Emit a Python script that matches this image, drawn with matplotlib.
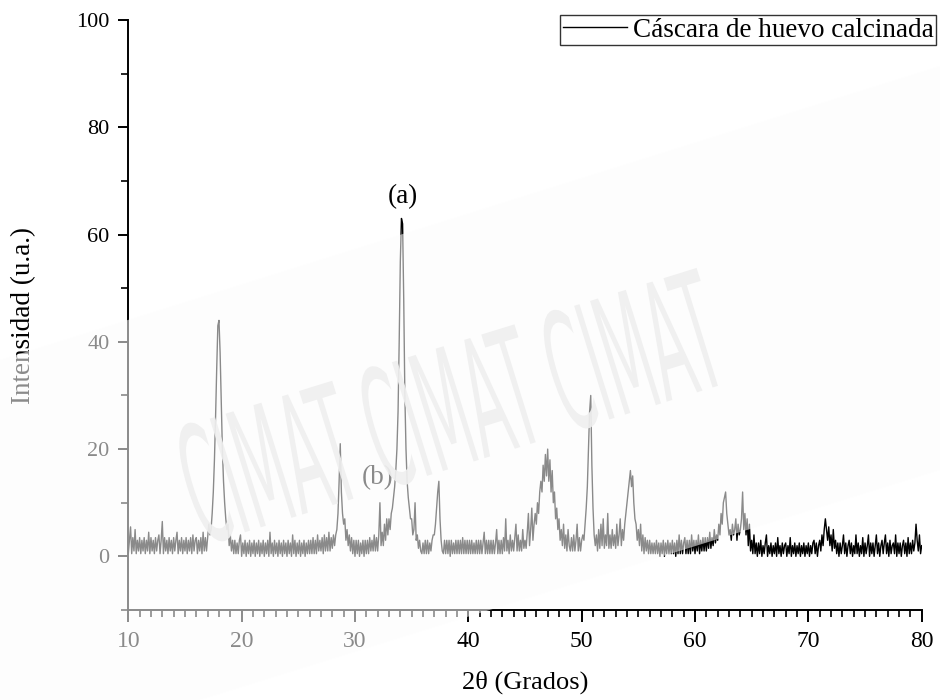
import numpy as np
import matplotlib
matplotlib.use('Agg')
import matplotlib.pyplot as plt
from matplotlib import patheffects
from matplotlib.patches import Polygon
from matplotlib.ticker import MultipleLocator
from matplotlib.transforms import Affine2D

# =Data : intensity, 0.1 deg steps starting at 10 deg
two_theta_start = 10.0
two_theta_step = 0.1

int_10_20 = [0.5, 3, 5.5, 0.5, 3.5, 1, 5, 0.5, 3, 1,
             3.5, 0.5, 3, 1, 3.5, 0.5, 3, 1, 4.5, 0.5,
             3.5, 1, 3, 0.5, 3.5, 1, 3, 4, 0.5, 3,
             6.5, 0.5, 3.5, 1, 3, 0.5, 3.5, 1, 3, 0.5,
             3.5, 1, 3, 4.5, 0.5, 3, 1, 3.5, 0.5, 3,
             1, 3.5, 0.5, 3, 1, 3.5, 0.5, 4, 1, 3,
             3.5, 0.5, 3, 1, 3.5, 0.5, 4.5, 1, 3.5, 1,
             3.5, 6, 4, 5, 8, 12, 18, 26, 35, 43,
             44, 38, 29, 20, 14, 10, 7, 5, 6, 2,
             4, 1, 3, 0.5, 3, 0.5, 2.5, 0.5, 3, 4]
int_20_30 = [0, 2.5, 0.5, 3, 0, 2.5, 0.5, 3, 0, 2.5,
             0.5, 3, 0, 2.5, 0.5, 3, 0, 2.5, 0.5, 3,
             0, 2.5, 0.5, 3, 0, 4.5, 0.5, 2.5, 0, 3,
             0.5, 2.5, 0, 3, 0.5, 2.5, 0, 3, 0.5, 2.5,
             0, 3, 0.5, 2.5, 0, 4, 0.5, 3, 0, 2.5,
             0.5, 3, 0, 2.5, 0.5, 3, 0, 2.5, 0.5, 3,
             0.5, 3, 0.5, 3.5, 0.5, 3, 0.5, 4, 1, 3,
             1, 3.5, 0.5, 4, 1, 3.5, 1, 4.5, 1, 3.5,
             1.5, 4, 2, 4, 5, 8, 14, 21, 12, 8,
             6, 7, 3, 5, 2, 4, 1, 3.5, 0.5, 3]
int_30_40 = [0, 3, 0.5, 3, 0, 2.5, 0.5, 3, 0, 3,
             0.5, 3, 0.5, 3.5, 1, 3, 1, 4, 1, 3.5,
             1, 4, 10, 2, 4.5, 2, 6, 3, 7, 4,
             7, 5, 8, 9, 11, 13, 16, 20, 27, 40,
             55, 63, 62, 48, 30, 20, 14, 11, 9, 7,
             7, 4, 5, 10, 3, 4, 1.5, 3, 1, 0.5,
             2.5, 0.5, 3, 0.5, 3, 0.5, 2.5, 1, 3, 4,
             4, 6, 9, 12, 14, 7, 3, 1, 0.5, 3,
             0.5, 3, 0.5, 3, 0, 3, 0.5, 2.5, 0.5, 3,
             0.5, 3, 0.5, 3, 0.5, 3.5, 0.5, 3, 0.5, 3]
int_40_50 = [0.5, 3, 0.5, 3, 0.5, 2.5, 0.5, 3, 0.5, 3,
             0.5, 3, 0.5, 2.5, 4.5, 0.5, 3, 0.5, 3, 0.5,
             3, 0.5, 3, 0.5, 2.5, 5, 0.5, 3, 0.5, 3,
             0.5, 3.5, 1, 7, 1, 3, 0.5, 4, 1, 3,
             1, 3.5, 6, 1, 4, 1, 3, 1, 5, 1.5,
             3, 1.5, 4.5, 8, 2, 5, 9, 3, 6, 8,
             6, 10, 8, 12, 14, 12, 17, 14, 19, 15,
             20, 14, 18, 12, 16, 10, 12, 7, 9, 5,
             7, 3, 5, 2, 6, 1.5, 4, 1, 5, 2,
             1, 3.5, 1, 4, 1, 3, 6, 1, 3.5, 1]
int_50_60 = [3, 4, 3, 6, 9, 13, 20, 27, 30, 17,
             9, 4, 2, 4, 1, 5, 1.5, 6, 2, 7,
             1.5, 4, 2, 8, 1.5, 4, 1.5, 5, 2, 4,
             1.5, 6, 2, 4, 7, 2, 5, 3, 6, 8,
             10, 12, 14, 16, 13, 15, 10, 7, 6, 3,
             5, 2, 6, 1, 4, 0.5, 3.5, 1, 3, 0.5,
             3, 0.5, 2.5, 0.5, 2.5, 0.5, 3, 0.5, 2.5, 0,
             2.5, 0.5, 3, 0, 2.5, 0.5, 3, 0.5, 2.5, 0.5,
             3, 0.5, 2.5, 0, 3, 0.5, 4, 0.5, 3, 0.5,
             2.5, 3.5, 0.5, 3, 0.5, 3, 0.5, 4, 1, 3]
int_60_70 = [0.5, 3, 1, 4, 0.5, 3, 1, 3.5, 1, 3.5,
             1, 3.5, 1.5, 4.5, 1.5, 3.5, 2, 5, 2.5, 4,
             3, 6, 4, 8, 6, 10, 11, 12, 8, 6,
             4, 5, 3, 6, 4, 5, 7, 3, 6, 4,
             5, 7, 12, 5, 8, 4, 7, 2, 6, 1,
             3, 0.5, 4, 0.5, 2.5, 0, 2.5, 0.5, 3, 0,
             2, 0.5, 2.5, 4, 0, 2, 0.5, 2.5, 0, 2,
             0.5, 2.5, 0, 3.5, 0.5, 2, 0, 2.5, 0.5, 2,
             2.5, 0, 2, 0.5, 3.5, 0, 2, 0.5, 2.5, 0,
             2, 0.5, 2.5, 0, 2, 0.5, 2.5, 0, 2, 0.5]
int_70_80 = [2.5, 0, 2, 0.5, 2.5, 3, 0.5, 2.5, 0, 2,
             3, 1, 4, 2, 5, 7, 5, 3, 5.5, 2,
             4, 1, 5, 1.5, 3, 0.5, 2.5, 0, 2.5, 0.5,
             2, 4, 0.5, 2.5, 0, 2, 3, 0.5, 2.5, 0,
             2, 0.5, 4, 0.5, 2.5, 0, 2, 0.5, 3.5, 0,
             2.5, 0.5, 2, 4, 0, 2.5, 0.5, 2.5, 0, 2,
             4, 0.5, 2.5, 0, 2, 3, 0.5, 2.5, 4, 0.5,
             2.5, 0, 3, 0.5, 2, 2.5, 0.5, 4, 0, 2.5,
             0.5, 2.5, 0, 2, 3, 0.5, 2.5, 0, 3.5, 0.5,
             2.5, 0.5, 3, 1, 2.5, 6, 3, 1, 4, 0.5,
             2]

series_label = 'Cáscara de huevo calcinada'
x_ticks = [10, 20, 30, 40, 50, 60, 70, 80]
y_ticks = [0, 20, 40, 60, 80, 100]

intensity = np.array(int_10_20 + int_20_30 + int_30_40 + int_40_50
                     + int_50_60 + int_60_70 + int_70_80)
two_theta = two_theta_start + two_theta_step * np.arange(len(intensity))


class Stretch(patheffects.AbstractPathEffect):
    # stretch glyphs perpendicular to the baseline, around a figure point
    def __init__(self, fig, xy, angle, factor):
        super().__init__()
        self._fig = fig
        self._xy = xy
        self._angle = angle
        self._factor = factor

    def draw_path(self, renderer, gc, tpath, affine, rgbFace=None):
        cx, cy = self._fig.transFigure.transform(self._xy)
        st = (Affine2D().translate(-cx, -cy).rotate_deg(-self._angle)
              .scale(1, self._factor).rotate_deg(self._angle).translate(cx, cy))
        renderer.draw_path(gc, tpath, affine + st, rgbFace)


plt.rcParams['font.family'] = ['Liberation Serif', 'DejaVu Serif']

W, H = 940, 700
fig = plt.figure(figsize=(W / 100, H / 100), dpi=100)
ax = fig.add_axes([128.3 / W, 90 / H, 793.4 / W, 590 / H])

ax.plot(two_theta, intensity, color='black', lw=1.0, label=series_label)
ax.set_xlim(10, 80)
ax.set_ylim(-10, 100)

for s in ['top', 'right']:
    ax.spines[s].set_visible(False)
for s in ['left', 'bottom']:
    ax.spines[s].set_linewidth(1.4)

ax.set_xticks(x_ticks)
ax.xaxis.set_minor_locator(MultipleLocator(1))
ax.set_yticks(y_ticks)
ax.yaxis.set_minor_locator(MultipleLocator(10))
ax.tick_params(axis='x', which='major', direction='out', length=8.4, width=1.4,
               labelsize=17, pad=6.5)
ax.tick_params(axis='y', which='major', direction='out', length=7.5, width=1.4,
               labelsize=16, pad=6)
ax.tick_params(which='minor', direction='out', length=4.8, width=1.2)

ax.set_xlabel('2θ (Grados)', fontsize=19)
ax.xaxis.set_label_coords(0.5, -0.103)
ax.set_ylabel('Intensidad (u.a.)', fontsize=19.5)
ax.yaxis.set_label_coords(-0.116, 0.5)

ax.text(34.25, 65.8, '(a)', ha='center', va='baseline', fontsize=19.5)
ax.text(32.0, 14.7, '(b)', ha='center', va='center', fontsize=19.5)

leg = ax.legend(loc='upper right', bbox_to_anchor=(936 / W, 1 - 15 / H),
                bbox_transform=fig.transFigure, fancybox=False, fontsize=19.5,
                borderpad=0.1, handlelength=2.36, handletextpad=0.22,
                borderaxespad=0)
leg.get_frame().set_edgecolor('black')
leg.get_frame().set_linewidth(1.0)

# watermark band (white, semi transparent) across the lower left
band_px = [(0, 340), (940, 634), (940, 230), (200, 0), (0, 0)]
fig.add_artist(Polygon([(x / W, y / H) for x, y in band_px], closed=True,
                       transform=fig.transFigure, facecolor='#fdfdfd',
                       edgecolor='none', alpha=0.55, zorder=5))
wm_xy = (454 / W, 278 / H)
wm = fig.text(wm_xy[0], wm_xy[1], 'CIMAT CIMAT CIMAT', rotation=17.2,
              rotation_mode='anchor', ha='center', va='center', fontsize=40.5,
              family='DejaVu Sans', color='#efefef', alpha=0.92, zorder=6)
wm.set_path_effects([Stretch(fig, wm_xy, 17.2, 2.9)])

fig.savefig('out.png', dpi=100)
